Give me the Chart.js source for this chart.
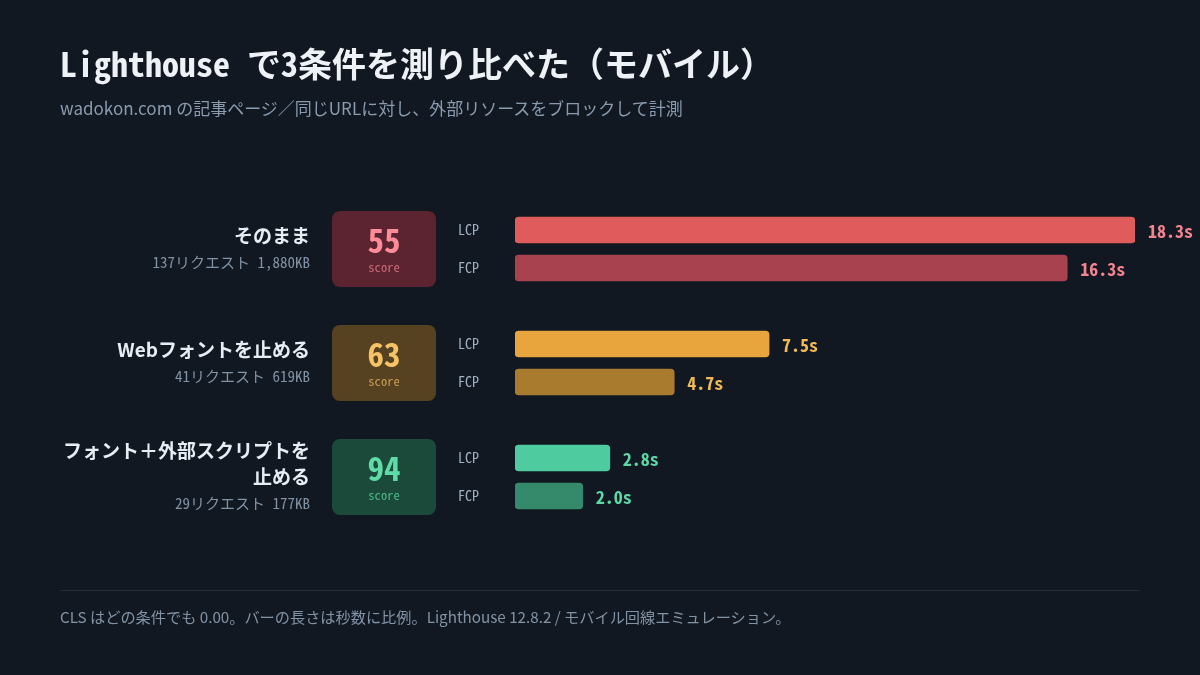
<!DOCTYPE html>
<html lang="ja">
<head>
<meta charset="utf-8">
<title>Lighthouse で3条件を測り比べた（モバイル）</title>
<script src="https://cdn.jsdelivr.net/npm/chart.js@4.4.1/dist/chart.umd.min.js"></script>
<style>
  html, body { margin: 0; padding: 0; background: #111821; }
  #wrap { position: relative; width: 1200px; height: 675px; overflow: hidden; background: #111821; }
  #wrap canvas { position: absolute; left: 0; top: 0; }
  .title { position: absolute; left: 60px; top: 43px; margin: 0; color: #eef2f6; font: bold 34px/40px 'Noto Sans Mono CJK JP', 'DejaVu Sans Mono', monospace; white-space: nowrap; }
  .sub { position: absolute; left: 60px; top: 97px; margin: 0; color: #8a9bb0; font: 17px/22px 'Noto Sans CJK JP', 'Noto Sans', sans-serif; white-space: nowrap; }
  .rule { position: absolute; left: 60px; top: 590px; width: 1080px; height: 1px; background: #232c38; }
  .note { position: absolute; left: 60px; top: 605px; margin: 0; color: #8393a6; font: 15.2px/22px 'Noto Sans CJK JP', 'Noto Sans', sans-serif; white-space: nowrap; }
</style>
</head>
<body>
<div id="wrap">
  <canvas id="chart"></canvas>
  <h1 class="title">Lighthouse で3条件を測り比べた（モバイル）</h1>
  <p class="sub">wadokon.com の記事ページ／同じURLに対し、外部リソースをブロックして計測</p>
  <div class="rule"></div>
  <p class="note">CLS はどの条件でも 0.00。バーの長さは秒数に比例。Lighthouse 12.8.2 / モバイル回線エミュレーション。</p>
</div>
<script>
// 条件ごとの値（秒）
const conditions = [['そのまま'], ['Webフォントを止める'], ['フォント＋外部スクリプトを', '止める']];
const requests = ['137リクエスト 1,880KB', '41リクエスト 619KB', '29リクエスト 177KB'];
const scores = [55, 63, 94];
const lcp = [18.3, 7.5, 2.8];
const fcp = [16.3, 4.7, 2.0];
const metricNames = ['LCP', 'FCP'];

// 色（赤・橙・緑）
const lcpColors = ['#e05b5c', '#e8a53d', '#4ecb9f'];
const fcpColors = ['#a8424f', '#a97b2e', '#348a6b'];
const valueColors = ['#f4848f', '#f2b955', '#5cd8a6'];
const boxColors = ['#5b2430', '#564220', '#1c4a3a'];
const scoreColors = ['#ff8c98', '#f6c466', '#5fdba8'];
const scoreLabelColors = ['#cc6a77', '#c99c52', '#4db88b'];

const MONO = "'Noto Sans Mono CJK JP', 'DejaVu Sans Mono', monospace";
const SANS = "'Noto Sans CJK JP', 'Noto Sans', sans-serif";

// 行ごとに LCP / FCP、間に空行
const labels = [];
const values = [];
const colors = [];
const rowOf = [];
conditions.forEach(function (c, i) {
    if (i) { labels.push(''); values.push(null); colors.push('transparent'); rowOf.push(-1); }
    labels.push(metricNames[0]); values.push(lcp[i]); colors.push(lcpColors[i]); rowOf.push(i);
    labels.push(metricNames[1]); values.push(fcp[i]); colors.push(fcpColors[i]); rowOf.push(i);
});

const decor = {
    id: 'decor',
    beforeDatasetsDraw: function (chart) {
        const ctx = chart.ctx;
        const y = chart.scales.y;
        ctx.save();
        conditions.forEach(function (lines, i) {
            const first = labels.indexOf(metricNames[0], i * 3);
            const cy = (y.getPixelForValue(first) + y.getPixelForValue(first + 1)) / 2;
            // score box
            ctx.fillStyle = boxColors[i];
            ctx.beginPath();
            ctx.roundRect(332, cy - 38, 104, 76, 8);
            ctx.fill();
            ctx.textAlign = 'center';
            ctx.textBaseline = 'middle';
            ctx.fillStyle = scoreColors[i];
            ctx.font = 'bold 33px ' + MONO;
            ctx.fillText(String(scores[i]), 384, cy - 9);
            ctx.fillStyle = scoreLabelColors[i];
            ctx.font = '12.5px ' + MONO;
            ctx.fillText('score', 384, cy + 18);
            // condition label
            ctx.textAlign = 'right';
            ctx.fillStyle = '#e6edf3';
            ctx.font = 'bold 19px ' + SANS;
            const top = cy - (lines.length * 26 + 27) / 2 + 13;
            lines.forEach(function (line, k) { ctx.fillText(line, 310, top + k * 26); });
            ctx.fillStyle = '#8192a5';
            ctx.font = '15px ' + MONO;
            ctx.fillText(requests[i], 310, top + lines.length * 26 + 1);
        });
        // metric names
        ctx.textAlign = 'left';
        ctx.font = '14px ' + MONO;
        ctx.fillStyle = '#a0b0c2';
        labels.forEach(function (l, idx) {
            if (l) ctx.fillText(l, 458, y.getPixelForValue(idx));
        });
        ctx.restore();
    },
    afterDatasetsDraw: function (chart) {
        const ctx = chart.ctx;
        const meta = chart.getDatasetMeta(0);
        ctx.save();
        ctx.textAlign = 'left';
        ctx.textBaseline = 'middle';
        ctx.font = 'bold 18px ' + MONO;
        meta.data.forEach(function (bar, idx) {
            if (values[idx] == null) return;
            ctx.fillStyle = valueColors[rowOf[idx]];
            ctx.fillText(values[idx].toFixed(1) + 's', bar.x + 13, bar.y + 1);
        });
        ctx.restore();
    }
};

new Chart(document.getElementById('chart'), {
    type: 'bar',
    data: {
        labels: labels,
        datasets: [{
            data: values,
            backgroundColor: colors,
            barThickness: 26,
            borderRadius: 4,
            borderSkipped: false
        }]
    },
    options: {
        indexAxis: 'y',
        responsive: true,
        maintainAspectRatio: false,
        animation: false,
        layout: { padding: { left: 515, right: 65, top: 211, bottom: 160 } },
        scales: {
            x: { display: false, min: 0, max: 18.3 },
            y: { display: false }
        },
        plugins: { legend: { display: false }, tooltip: { enabled: false } }
    },
    plugins: [decor]
});
</script>
</body>
</html>
